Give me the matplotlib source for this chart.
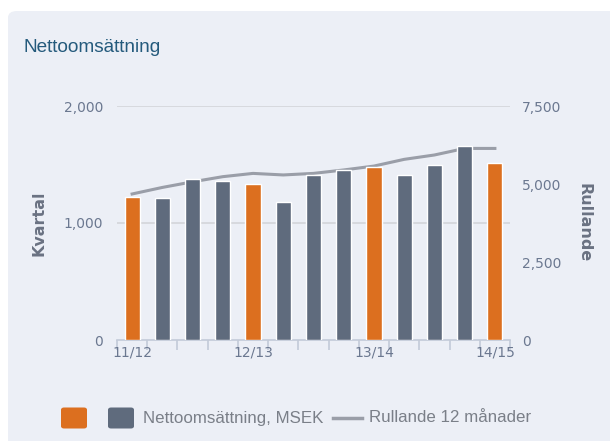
import matplotlib
matplotlib.use("Agg")
import matplotlib.pyplot as plt
from matplotlib.patches import FancyBboxPatch
from matplotlib.lines import Line2D
import numpy as np

# Data
quarters = list(range(13))
quarter_values = [1225, 1211, 1373, 1359, 1331, 1179, 1407, 1453, 1481, 1407, 1496, 1658, 1510]
rolling_12m = [4680, 4890, 5070, 5235, 5340, 5290, 5340, 5450, 5575, 5790, 5930, 6140, 6140]
highlight = [True, False, False, False, True, False, False, False, True, False, False, False, True]
year_labels = ["11/12", "12/13", "13/14", "14/15"]
year_label_pos = [0, 4, 8, 12]

ORANGE = "#dc6f1f"
SLATE = "#5f6b7d"
LINEC = "#9a9ea8"
BG = "#eceff6"
TICKC = "#6b7890"

W, H = 610, 441
fig = plt.figure(figsize=(W / 100, H / 100), dpi=100)
fig.patch.set_facecolor("white")

panel = FancyBboxPatch((8 / W, -0.05), 1.0, 1 - 11 / H + 0.05,
                       boxstyle="round,pad=0,rounding_size=0.015",
                       transform=fig.transFigure, facecolor=BG,
                       edgecolor="none", zorder=-10)
fig.patches.append(panel)

fig.text(23 / W, 1 - 47 / H, "Nettoomsättning", family="Liberation Sans",
         fontsize=13.7, color="#245a7c", va="center", ha="left")

ax = fig.add_axes([117 / W, 1 - 340 / H, 393 / W, 234 / H])
ax.set_facecolor("none")
colors = [ORANGE if h else SLATE for h in highlight]
ax.bar(quarters, quarter_values, width=0.5, color=colors, edgecolor="white",
       linewidth=1, zorder=3)
ax.set_xlim(-0.5, 12.5)
ax.set_ylim(0, 2000)
ax.set_yticks([0, 1000, 2000])
ax.set_yticklabels(["0", "1,000", "2,000"])
for y in [1000, 2000]:
    ax.axhline(y, color="#d3d5da", linewidth=1.2, zorder=1)
for s in ["top", "right", "left"]:
    ax.spines[s].set_visible(False)
ax.spines["bottom"].set_color("#c3cad8")
ax.spines["bottom"].set_linewidth(1.2)
ax.tick_params(axis="y", length=0, pad=10, labelsize=10, labelcolor=TICKC)
ax.set_xticks(np.arange(-0.5, 13, 1))
ax.set_xticklabels([])
ax.tick_params(axis="x", which="major", length=7, width=1.2, color="#c3cad8")
ax.set_xticks(year_label_pos, minor=True)
ax.set_xticklabels(year_labels, minor=True)
ax.tick_params(axis="x", which="minor", length=0, pad=4, labelsize=10, labelcolor=TICKC)
for t in ax.get_yticklabels() + ax.get_xticklabels(minor=True):
    t.set_family("DejaVu Sans")
ax.set_ylabel("Kvartal", fontsize=11.5, fontweight="bold", color="#6a7282", labelpad=12)

ax2 = ax.twinx()
ax2.set_facecolor("none")
ax2.plot(quarters, rolling_12m, color=LINEC, linewidth=2.2, zorder=4)
ax2.set_ylim(0, 7500)
ax2.set_yticks([0, 2500, 5000, 7500])
ax2.set_yticklabels(["0", "2,500", "5,000", "7,500"])
for s in ["top", "right", "left", "bottom"]:
    ax2.spines[s].set_visible(False)
ax2.tick_params(axis="y", length=0, pad=8.5, labelsize=10, labelcolor=TICKC)
for t in ax2.get_yticklabels():
    t.set_family("DejaVu Sans")
ax2.set_ylabel("Rullande", rotation=270, fontsize=11.5, fontweight="bold",
               color="#6a7282", labelpad=22)
# bars in front of the rolling line
ax.set_zorder(2)
ax2.set_zorder(1)

# Legend (drawn in figure pixel coordinates)
def px(x, y):
    return x / W, 1 - y / H

ly = 418
for x0, c in [(61, ORANGE), (108, SLATE)]:
    sq = FancyBboxPatch(px(x0, ly + 10.5), 26 / W, 21 / H,
                        boxstyle="round,pad=0,rounding_size=0.005",
                        transform=fig.transFigure, facecolor=c, edgecolor="none")
    fig.patches.append(sq)
fig.text(*px(143, ly), "Nettoomsättning, MSEK", family="Liberation Sans",
         fontsize=12.2, color="#7a7f88", va="center", ha="left")
fig.lines.append(Line2D([333 / W, 362 / W], [1 - ly / H, 1 - ly / H],
                        transform=fig.transFigure, color=LINEC, linewidth=2.5))
fig.text(*px(369, ly), "Rullande 12 månader", family="Liberation Sans",
         fontsize=12.2, color="#7a7f88", va="center", ha="left")

fig.savefig("out.png", dpi=100)
